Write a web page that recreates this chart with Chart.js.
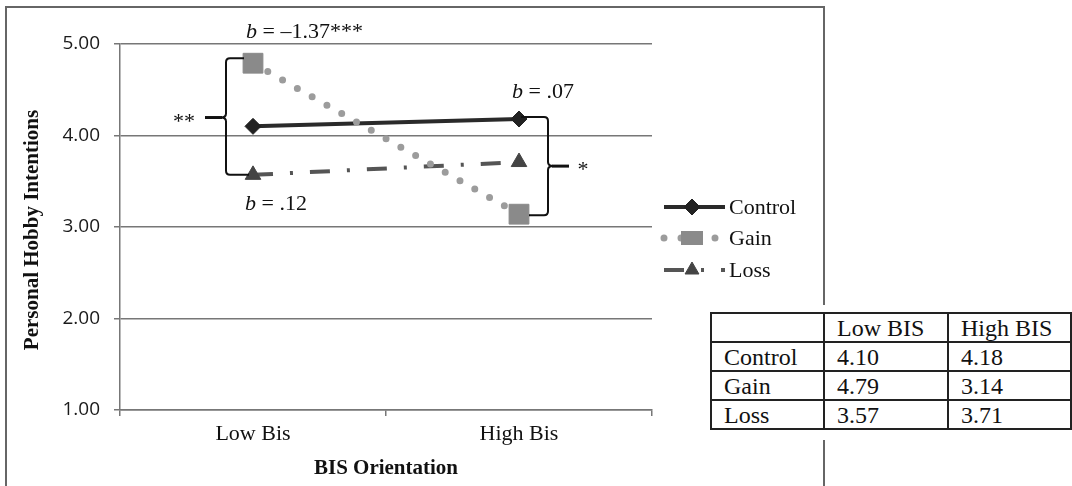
<!DOCTYPE html>
<html><head><meta charset="utf-8">
<script src="https://cdn.jsdelivr.net/npm/chart.js@4.4.1/dist/chart.umd.min.js"></script>
<style>
html,body{margin:0;padding:0;background:#fff;}
#wrap{position:relative;width:1072px;height:486px;overflow:hidden;background:#fff;}
canvas{position:absolute;left:0;top:0;}
#tbl{position:absolute;left:710px;top:312px;border-collapse:collapse;font-family:'Liberation Serif','Times New Roman',serif;font-size:24px;color:#111;background:#fff;}
#tbl td{border:2px solid #222;padding:0 0 0 12px;height:29px;line-height:26px;box-sizing:border-box;white-space:nowrap;}
</style></head>
<body><div id="wrap"><canvas id="c" width="1072" height="486"></canvas>
<table id="tbl"></table></div>
<script>
const categories = ['Low Bis', 'High Bis'];
const seriesNames = ['Control', 'Gain', 'Loss'];
const controlValues = [4.10, 4.18];
const gainValues = [4.79, 3.14];
const lossValues = [3.57, 3.71];
const tableColumns = ['Low BIS', 'High BIS'];
const yMin = 1, yMax = 5, yStep = 1;
const xTitle = 'BIS Orientation';
const yTitle = 'Personal Hobby Intentions';
const slopeLabels = ['\u20131.37***', '.07', '.12'];

const SERIF = "'Liberation Serif','Times New Roman',serif";

// table
(function(){
  const t = document.getElementById('tbl');
  const widths = [113, 124, 123];
  let html = '<tr><td style="width:'+widths[0]+'px"></td>' + tableColumns.map((c,i)=>'<td style="width:'+widths[i+1]+'px">'+c+'</td>').join('') + '</tr>';
  const vals = [controlValues, gainValues, lossValues];
  seriesNames.forEach((n,i)=>{
    html += '<tr><td>'+n+'</td>' + vals[i].map(v=>'<td>'+v.toFixed(2)+'</td>').join('') + '</tr>';
  });
  t.innerHTML = html;
})();

function drawB(ctx, x, y, rest) {
  ctx.font = 'italic 22px ' + SERIF;
  ctx.fillText('b', x, y);
  const w = ctx.measureText('b').width;
  ctx.font = '22px ' + SERIF;
  ctx.fillText(' = ' + rest, x + w, y);
}

const decor = {
  id: 'decor',
  afterDraw(chart) {
    const ctx = chart.ctx;
    const xs = chart.scales.x, ys = chart.scales.y;
    const area = chart.chartArea;
    ctx.save();
    // outer frame
    ctx.strokeStyle = '#666'; ctx.lineWidth = 2;
    ctx.beginPath();
    ctx.moveTo(6, 487); ctx.lineTo(6, 7); ctx.lineTo(824, 7); ctx.lineTo(824, 305);
    ctx.moveTo(824, 440); ctx.lineTo(824, 487);
    ctx.stroke();

    ctx.fillStyle = '#111';
    // axis titles
    ctx.font = 'bold 21px ' + SERIF;
    ctx.textAlign = 'center'; ctx.textBaseline = 'middle';
    ctx.fillText(xTitle, (area.left + area.right) / 2, 469);
    ctx.save();
    ctx.translate(33, (area.top + area.bottom) / 2 + 3);
    ctx.rotate(-Math.PI / 2);
    ctx.fillText(yTitle, 0, 0);
    ctx.restore();

    const xL = xs.getPixelForValue(0), xH = xs.getPixelForValue(1);
    // slope annotations
    ctx.textAlign = 'left'; ctx.textBaseline = 'alphabetic';
    drawB(ctx, xL - 7, ys.getPixelForValue(yMax) - 6, slopeLabels[0]);
    drawB(ctx, xH - 7, ys.getPixelForValue(controlValues[1]) - 21, slopeLabels[1]);
    drawB(ctx, xL - 8, ys.getPixelForValue(lossValues[0]) + 35, slopeLabels[2]);

    // braces
    ctx.strokeStyle = '#111'; ctx.lineWidth = 2;
    const lt = ys.getPixelForValue(gainValues[0]) - 5, lb = ys.getPixelForValue(lossValues[0]);
    const lx = xL - 27, lm = (lt + lb) / 2 + 1;
    ctx.beginPath();
    ctx.moveTo(xL - 9, lt); ctx.lineTo(lx + 4, lt); ctx.quadraticCurveTo(lx, lt, lx, lt + 4);
    ctx.lineTo(lx, lm - 4); ctx.quadraticCurveTo(lx, lm, lx - 5, lm);
    ctx.moveTo(lx - 5, lm); ctx.quadraticCurveTo(lx, lm, lx, lm + 4);
    ctx.lineTo(lx, lb - 4); ctx.quadraticCurveTo(lx, lb, lx + 4, lb); ctx.lineTo(xL - 4, lb);
    ctx.stroke();
    ctx.lineWidth = 3;
    ctx.beginPath(); ctx.moveTo(lx - 4, lm); ctx.lineTo(lx - 21, lm); ctx.stroke();

    ctx.lineWidth = 2;
    const rt = ys.getPixelForValue(controlValues[1]) - 2, rb = ys.getPixelForValue(gainValues[1]) + 1;
    const rx = xH + 29, rm = (rt + rb) / 2;
    ctx.beginPath();
    ctx.moveTo(xH + 2, rt); ctx.lineTo(rx - 4, rt); ctx.quadraticCurveTo(rx, rt, rx, rt + 4);
    ctx.lineTo(rx, rm - 4); ctx.quadraticCurveTo(rx, rm, rx + 5, rm);
    ctx.moveTo(rx + 5, rm); ctx.quadraticCurveTo(rx, rm, rx, rm + 4);
    ctx.lineTo(rx, rb - 4); ctx.quadraticCurveTo(rx, rb, rx - 4, rb); ctx.lineTo(xH + 10, rb);
    ctx.stroke();
    ctx.lineWidth = 3;
    ctx.beginPath(); ctx.moveTo(rx + 4, rm); ctx.lineTo(rx + 21, rm); ctx.stroke();

    ctx.font = '22px ' + SERIF;
    ctx.textAlign = 'center';
    ctx.fillText('**', lx - 42, lm + 10);
    ctx.fillText('*', rx + 35, rm + 10);

    // legend
    const legY = [207, 238, 270];
    const legMarkerR = [8, 10, 8];
    chart.data.datasets.forEach((ds, i) => {
      const y = legY[i];
      ctx.save();
      ctx.strokeStyle = ds.borderColor; ctx.lineWidth = ds.borderWidth;
      ctx.setLineDash(ds.borderDash || []); ctx.lineCap = ds.borderCapStyle || 'butt';
      ctx.beginPath(); ctx.moveTo(664, y); ctx.lineTo(725, y); ctx.stroke();
      ctx.restore();
      ctx.save();
      ctx.fillStyle = ds.pointBackgroundColor; ctx.strokeStyle = ds.pointBorderColor;
      ctx.lineWidth = 1;
      if (ds.pointStyle === 'rect') {
        ctx.fillRect(681, y - 7, 22, 14);
      } else {
        Chart.helpers.drawPoint(ctx, {pointStyle: ds.pointStyle, radius: legMarkerR[i], borderWidth: 1, rotation: 0}, 692, y);
      }
      ctx.restore();
      ctx.fillStyle = '#111';
      ctx.font = '22px ' + SERIF;
      ctx.textAlign = 'left'; ctx.textBaseline = 'middle';
      ctx.fillText(ds.label, 729, y + 1);
    });
    ctx.restore();
  }
};

new Chart(document.getElementById('c'), {
  type: 'line',
  data: {
    labels: categories,
    datasets: [
      { label: seriesNames[0], data: controlValues, borderColor: '#2a2a2a', borderWidth: 4,
        pointStyle: 'rectRot', pointRadius: 8, pointBackgroundColor: '#222', pointBorderColor: '#222', pointBorderWidth: 1, order: 2 },
      { label: seriesNames[1], data: gainValues, borderColor: '#9c9c9c', borderWidth: 7, borderDash: [0, 17], borderCapStyle: 'round',
        pointStyle: 'rect', pointRadius: 14, pointBackgroundColor: '#8a8a8a', pointBorderColor: '#8a8a8a', pointBorderWidth: 1, order: 1 },
      { label: seriesNames[2], data: lossValues, borderColor: '#555', borderWidth: 4, borderDash: [20, 17, 3, 17],
        pointStyle: 'triangle', pointRadius: 9, pointBackgroundColor: '#444', pointBorderColor: '#444', pointBorderWidth: 1, order: 3 }
    ]
  },
  options: {
    responsive: false, animation: false, devicePixelRatio: 1,
    layout: { padding: { left: 0, top: 44, right: 420, bottom: 0 } },
    plugins: { legend: { display: false }, tooltip: { enabled: false } },
    elements: { line: { tension: 0 } },
    scales: {
      x: {
        type: 'category', offset: true,
        grid: { offset: true, drawOnChartArea: false, tickLength: 6, color: '#777', lineWidth: 1.5 },
        border: { display: true, color: '#777', width: 1.5 },
        ticks: { font: { family: SERIF, size: 22 }, color: '#111', padding: 5 },
        afterFit(s) { s.height = 76; }
      },
      y: {
        min: yMin, max: yMax,
        grid: { color: '#777', lineWidth: 1.5, tickLength: 6 },
        border: { display: true, color: '#777', width: 1.5 },
        ticks: { stepSize: yStep, font: { family: "'Open Sans','Noto Sans',sans-serif", size: 19 }, color: '#1a1a1a', padding: 14,
                 callback: v => Number(v).toFixed(2) },
        afterFit(s) { s.width = 120; }
      }
    }
  },
  plugins: [decor]
});
</script>
</body></html>
